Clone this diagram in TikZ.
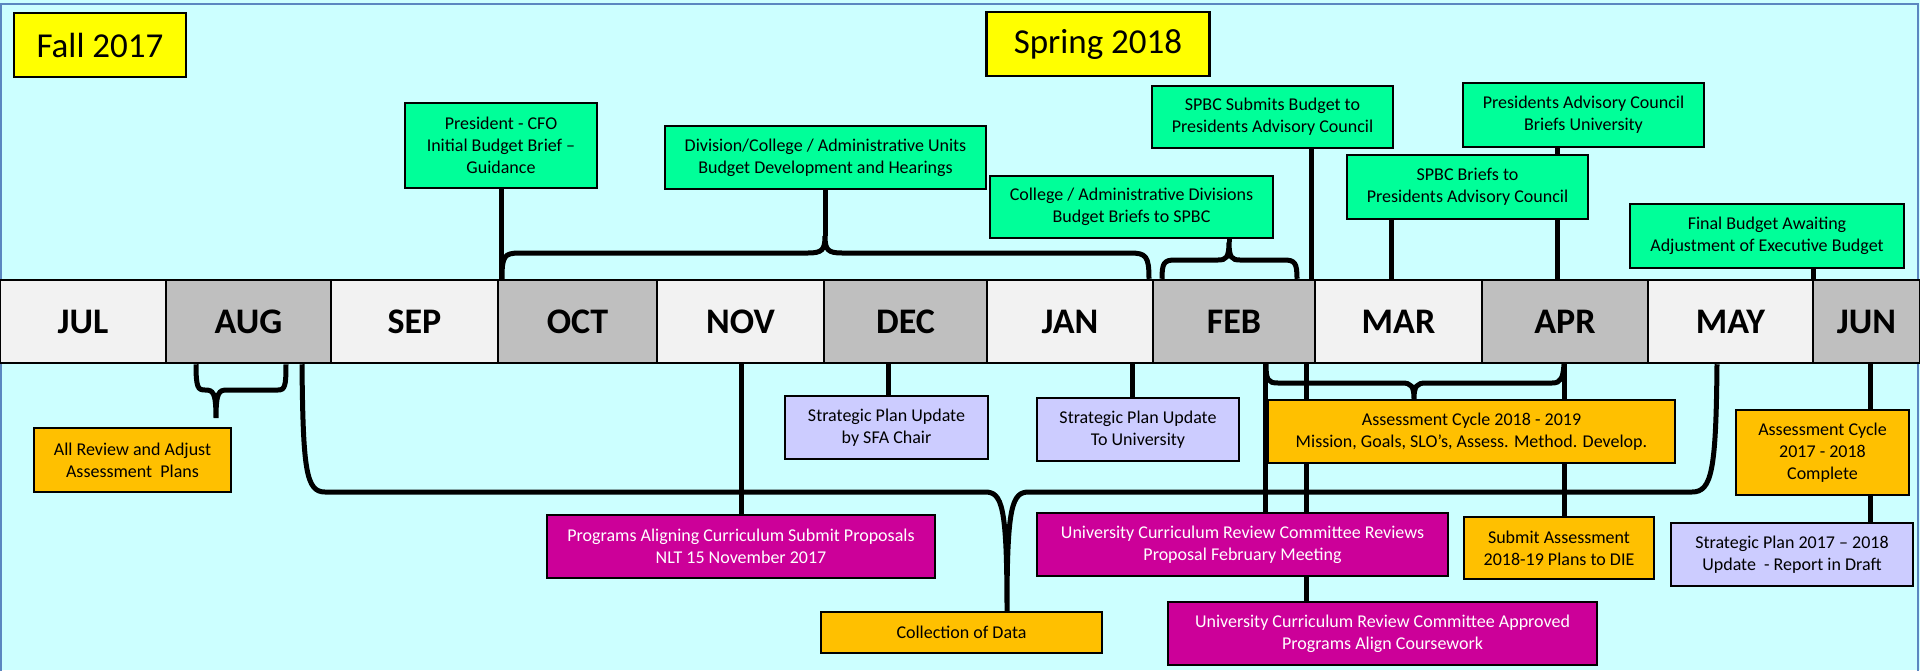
\documentclass[tikz,border=0pt]{standalone}
\usepackage{fontspec}
\setmainfont{Carlito}
\definecolor{bgc}{HTML}{CCFFFF}
\definecolor{framec}{HTML}{5B87C0}
\definecolor{grn}{HTML}{00FF99}
\definecolor{yel}{HTML}{FFFF00}
\definecolor{org}{HTML}{FFC000}
\definecolor{mag}{HTML}{CC0099}
\definecolor{lav}{HTML}{CCCCFF}
\definecolor{mlight}{HTML}{F2F2F2}
\definecolor{mdark}{HTML}{BFBFBF}
\pgfdeclarelayer{bglayer}
\pgfdeclarelayer{linelayer}
\pgfsetlayers{bglayer,linelayer,main}
\tikzset{
  box/.style={draw=black, line width=2.5pt, inner sep=0pt, align=center, font=\fontsize{18}{22}\selectfont},
  gbox/.style={box, fill=grn},
  obox/.style={box, fill=org},
  mbox/.style={box, fill=mag, text=white},
  lbox/.style={box, fill=lav},
  ybox/.style={box, fill=yel, font=\fontsize{35}{40}\selectfont},
  month/.style={draw=black, line width=2.5pt, inner sep=0pt, minimum height=83pt, font=\fontsize{36}{40}\selectfont\bfseries},
  mlt/.style={month, fill=mlight},
  mdk/.style={month, fill=mdark},
  conn/.style={line width=5pt, black},
  brace/.style={line width=5pt, black},
}
\begin{document}
\begin{tikzpicture}[x=1pt, y=-1pt]
\useasboundingbox (0,0) rectangle (1920,670);
\begin{pgfonlayer}{bglayer}
  \fill[bgc] (0,0) rectangle (1920,670);
  \draw[framec, line width=2.5pt] (1,4) rectangle (1918,690);
\end{pgfonlayer}

% season labels
\node[ybox, minimum width=172pt, minimum height=64pt] (fall) at (100,45) {Fall 2017};
\node[ybox, minimum width=223pt, minimum height=64pt] (spring) at (1098,44) {Spring 2018};

% month bar
\node[mlt, minimum width=166pt] (jul) at (83,321.5) {JUL};
\node[mdk, minimum width=165pt] (aug) at (248.5,321.5) {AUG};
\node[mlt, minimum width=167pt] (sep) at (414.5,321.5) {SEP};
\node[mdk, minimum width=159pt] (oct) at (577.5,321.5) {OCT};
\node[mlt, minimum width=167pt] (nov) at (740.5,321.5) {NOV};
\node[mdk, minimum width=163pt] (dec) at (905.5,321.5) {DEC};
\node[mlt, minimum width=166pt] (jan) at (1070,321.5) {JAN};
\node[mdk, minimum width=162pt] (feb) at (1234,321.5) {FEB};
\node[mlt, minimum width=167pt] (mar) at (1398.5,321.5) {MAR};
\node[mdk, minimum width=166pt] (apr) at (1565,321.5) {APR};
\node[mlt, minimum width=165pt] (may) at (1730.5,321.5) {MAY};
\node[mdk, minimum width=107pt] (jun) at (1866.5,321.5) {JUN};

% upper (budget) boxes
\node[gbox, minimum width=192pt, minimum height=85pt] (pres) at (501,145.5) {President - CFO\\Initial Budget Brief –\\Guidance};
\node[gbox, minimum width=321pt, minimum height=63pt] (divn) at (825.5,157.5) {Division/College / Administrative Units\\Budget Development and Hearings};
\node[gbox, minimum width=283pt, minimum height=62pt] (coll) at (1131.5,207) {College / Administrative Divisions\\Budget Briefs to SPBC};
\node[gbox, minimum width=241pt, minimum height=62pt] (subm) at (1272.5,117) {SPBC Submits Budget to\\Presidents Advisory Council};
\node[gbox, minimum width=241pt, minimum height=64pt] (pac) at (1583.5,115) {Presidents Advisory Council\\Briefs University};
\node[gbox, minimum width=241pt, minimum height=64pt] (brf) at (1467.5,187) {SPBC Briefs to\\Presidents Advisory Council};
\node[gbox, minimum width=274pt, minimum height=64pt] (fin) at (1767,236) {Final Budget Awaiting\\Adjustment of Executive Budget};

% lower boxes
\node[obox, minimum width=197pt, minimum height=64pt] (allrev) at (132.5,460) {All Review and Adjust\\Assessment\ \ Plans};
\node[mbox, minimum width=388pt, minimum height=63pt] (prog) at (741,546.5) {Programs Aligning Curriculum Submit Proposals\\NLT 15 November 2017};
\node[lbox, minimum width=203pt, minimum height=63pt] (sfa) at (886.5,427.5) {Strategic Plan Update\\by SFA Chair};
\node[lbox, minimum width=202pt, minimum height=63pt] (touniv) at (1138,429.5) {Strategic Plan Update\\To University};
\node[obox, minimum width=281pt, minimum height=41pt] (data) at (961.5,632.5) {Collection of Data};
\node[mbox, minimum width=411pt, minimum height=63pt] (ucrcr) at (1242.5,544.5) {University Curriculum Review Committee Reviews\\Proposal February Meeting};
\node[mbox, minimum width=429pt, minimum height=63pt] (ucrca) at (1382.5,633.5) {University Curriculum Review Committee Approved\\Programs Align Coursework};
\node[obox, minimum width=407pt, minimum height=63pt] (assess) at (1471.5,431.5) {Assessment Cycle 2018 - 2019\\Mission, Goals, SLO’s, Assess. Method. Develop.};
\node[obox, minimum width=190pt, minimum height=62pt] (submit) at (1559,548) {Submit Assessment\\2018-19 Plans to DIE};
\node[obox, minimum width=173pt, minimum height=85pt] (done) at (1822.5,452.5) {Assessment Cycle\\2017 - 2018\\Complete};
\node[lbox, minimum width=242pt, minimum height=63pt] (sp) at (1792,554.5) {Strategic Plan 2017 – 2018\\Update\ \ - Report in Draft};

% brace tips
\coordinate (tipA) at (825,236);
\coordinate (tipB) at (1229,242);
\coordinate (tipC) at (216,418);
\coordinate (tipD) at (1007,0 |- data.north);
\coordinate (tipE) at (1414,0 |- assess.north);

\begin{pgfonlayer}{linelayer}
  % upper stems
  \draw[conn] (pres.south) -- (pres.south |- oct.north);
  \draw[conn] (825,0 |- divn.south) -- (tipA);
  \draw[conn] (1229,0 |- coll.south) -- (tipB);
  \draw[conn] (1311,0 |- subm.south) -- (1311,0 |- feb.north);
  \draw[conn] (1557,0 |- pac.south) -- (1557,0 |- apr.north);
  \draw[conn] (1391,0 |- brf.south) -- (1391,0 |- mar.north);
  \draw[conn] (1813,0 |- fin.south) -- (1813,0 |- jun.north);
  % upper braces
  \draw[brace] (502,0 |- oct.north) .. controls (502,256) and (504,253) .. (520,253) -- (808,253)
     .. controls (822,253) and (825,250) .. (tipA) .. controls (825,250) and (828,253) .. (842,253)
     -- (1130,253) .. controls (1146,253) and (1149,256) .. (1149,0 |- jan.north);
  \draw[brace] (1162,0 |- feb.north) .. controls (1162,263) and (1164,260) .. (1175,260) -- (1218,260)
     .. controls (1226,260) and (1229,258) .. (tipB) .. controls (1229,258) and (1232,260) .. (1240,260)
     -- (1284,260) .. controls (1295,260) and (1297,263) .. (1297,0 |- feb.north);
  % lower stems
  \draw[conn] (741,0 |- nov.south) -- (741,0 |- prog.north);
  \draw[conn] (888,0 |- dec.south) -- (888,0 |- sfa.north);
  \draw[conn] (1132,0 |- jan.south) -- (1132,0 |- touniv.north);
  \draw[conn] (1265,0 |- feb.south) -- (1265,0 |- ucrcr.north);
  \draw[conn] (1306,0 |- feb.south) -- (1306,0 |- ucrca.north);
  \draw[conn] (1564,0 |- apr.south) -- (1564,0 |- submit.north);
  \draw[conn] (1870,0 |- jun.south) -- (1870,0 |- sp.north);
  % lower braces
  \draw[brace] (196,0 |- aug.south) .. controls (196,388) and (198,390) .. (205,390)
     .. controls (213,390) and (216,392) .. (tipC) .. controls (216,392) and (219,390) .. (227,390)
     -- (278,390) .. controls (285,390) and (286,386) .. (286,0 |- aug.south);
  \draw[brace] (302,0 |- aug.south) .. controls (303,470) and (306,492) .. (325,492) -- (985,492)
     .. controls (1002,492) and (1007,505) .. (tipD) .. controls (1007,505) and (1012,492) .. (1029,492)
     -- (1692,492) .. controls (1712,492) and (1716,470) .. (1717,0 |- may.south);
  \draw[brace] (1266,0 |- feb.south) .. controls (1266,380) and (1268,383) .. (1278,383) -- (1402,383)
     .. controls (1411,383) and (1414,386) .. (tipE) .. controls (1414,386) and (1417,383) .. (1426,383)
     -- (1552,383) .. controls (1561,383) and (1563,378) .. (1564,0 |- apr.south);
\end{pgfonlayer}
\end{tikzpicture}
\end{document}
